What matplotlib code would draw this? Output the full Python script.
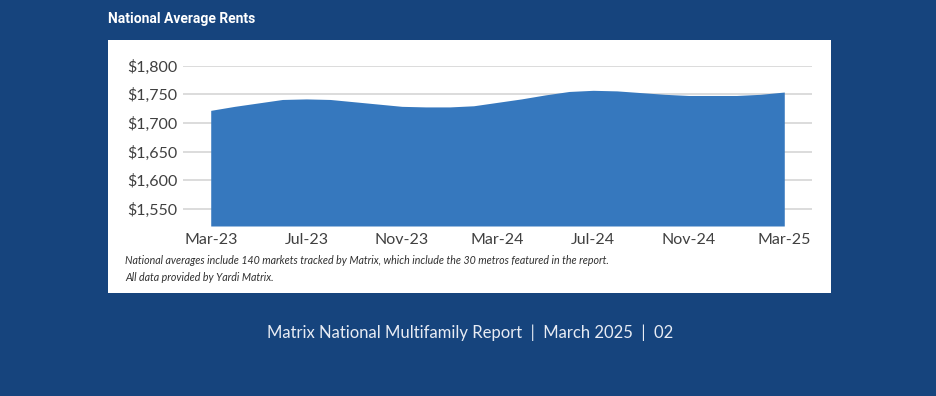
import matplotlib.pyplot as plt
from matplotlib.patches import Rectangle
from matplotlib.ticker import FuncFormatter

# monthly national average rent, Mar-23 .. Mar-25
months = ["Mar-23", "Apr-23", "May-23", "Jun-23", "Jul-23", "Aug-23", "Sep-23",
          "Oct-23", "Nov-23", "Dec-23", "Jan-24", "Feb-24", "Mar-24", "Apr-24",
          "May-24", "Jun-24", "Jul-24", "Aug-24", "Sep-24", "Oct-24", "Nov-24",
          "Dec-24", "Jan-25", "Feb-25", "Mar-25"]
rents = [1722, 1729, 1735, 1741, 1742, 1741, 1737, 1733, 1729, 1728, 1728,
         1730, 1736, 1742, 1749, 1755, 1757, 1756, 1753, 1750, 1748, 1748,
         1748, 1750, 1754]
y_ticks = [1550, 1600, 1650, 1700, 1750, 1800]
x_tick_idx = [0, 4, 8, 12, 16, 20, 24]

BG = "#16447d"
AREA = "#3678be"
W, H = 936, 396

fig = plt.figure(figsize=(W / 100, H / 100), dpi=100)
fig.patch.set_facecolor(BG)

# white panel
fig.patches.append(Rectangle((108 / W, 1 - 293 / H), (831 - 108) / W, (293 - 40) / H,
                             transform=fig.transFigure, facecolor="white",
                             edgecolor="none", zorder=-5))

ax = fig.add_axes([183 / W, 1 - 226 / H, (812 - 183) / W, (226 - 65.7) / H])
ax.set_zorder(2)
ax.set_facecolor("none")
x = list(range(len(rents)))
ax.fill_between(x, 1520, rents, color=AREA, linewidth=0, zorder=3)
ax.set_xlim(-1.16, 25.16)
ax.set_ylim(1520, 1800)
ax.set_yticks(y_ticks)
ax.yaxis.set_major_formatter(FuncFormatter(lambda v, p: f"${v:,.0f}"))
ax.set_xticks(x_tick_idx)
ax.set_xticklabels([months[i] for i in x_tick_idx])
ax.grid(axis="y", color="#dcdcdc", linewidth=1.4, zorder=1)
ax.set_axisbelow(True)
for s in ax.spines.values():
    s.set_visible(False)
ax.tick_params(length=0, labelsize=11.5, colors="#404040")
ax.tick_params(axis="y", pad=4)
ax.tick_params(axis="x", pad=5)
for lab in ax.get_xticklabels() + ax.get_yticklabels():
    lab.set_family("Lato")

fig.text(108 / W, 1 - 19 / H, "National Average Rents", color="white",
         fontsize=10, fontweight="bold", family="Roboto",
         va="center", ha="left")

fig.text(125 / W, 1 - 261 / H,
         "National averages include 140 markets tracked by Matrix, which include the 30 metros featured in the report.",
         color="#303030", fontsize=7.7, style="italic", family="Lato", va="center")
fig.text(125 / W, 1 - 277.5 / H, "All data provided by Yardi Matrix.",
         color="#303030", fontsize=7.7, style="italic", family="Lato", va="center")

fig.text(470 / W, 1 - 333 / H,
         "Matrix National Multifamily Report  |  March 2025  |  02",
         color="#e8ecf4", fontsize=12, family="Lato", ha="center", va="center")

fig.savefig("out.png", dpi=100, facecolor=BG)
